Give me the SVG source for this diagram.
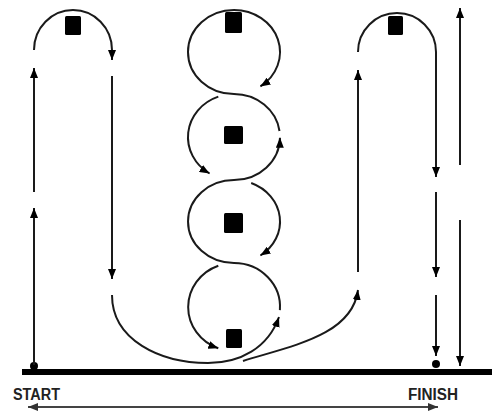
<svg xmlns="http://www.w3.org/2000/svg" width="492" height="413" viewBox="0 0 492 413">
  <style>
    .route { fill: none; stroke: #1a1a1a; stroke-width: 2; marker-end: url(#ah); }
    .plain { fill: none; stroke: #1a1a1a; stroke-width: 2; }
    .cone { fill: #000; }
    .label { font-family: "Liberation Sans", Arial, sans-serif; font-weight: bold; font-size: 16px; fill: #222; }
    .dim { fill: none; stroke: #1a1a1a; stroke-width: 2; }
  </style>
  <defs>
    <marker id="ah" viewBox="0 0 10 8" markerWidth="10" markerHeight="8" refX="10" refY="4" orient="auto" markerUnits="userSpaceOnUse">
      <path d="M0,0 L10,4 L0,8 z" fill="#000"/>
    </marker>
    <marker id="ah2" viewBox="0 0 10 8" markerWidth="10" markerHeight="8" refX="10" refY="4" orient="auto-start-reverse" markerUnits="userSpaceOnUse">
      <path d="M0,0 L10,4 L0,8 z" fill="#333"/>
    </marker>
  </defs>

  <!-- ground line -->
  <g id="ground">
    <line x1="22" y1="372" x2="492" y2="372" stroke="#000" stroke-width="6"/>
    <circle cx="34" cy="366" r="4" fill="#000"/>
    <circle cx="436" cy="364" r="4" fill="#000"/>
  </g>

  <!-- cones -->
  <g id="cone-left"><rect class="cone" x="65" y="16" width="16" height="19" rx="1.5"/></g>
  <g id="cone-right"><rect class="cone" x="388" y="16" width="15" height="19" rx="1.5"/></g>
  <g id="cone-1"><rect class="cone" x="225" y="12" width="17" height="21" rx="1.5"/></g>
  <g id="cone-2"><rect class="cone" x="224" y="126" width="19" height="18" rx="1.5"/></g>
  <g id="cone-3"><rect class="cone" x="224" y="213" width="19" height="20" rx="1.5"/></g>
  <g id="cone-4"><rect class="cone" x="226" y="329" width="16" height="19" rx="1.5"/></g>

  <!-- running route -->
  <g id="connectors">
    <!-- left loop -->
    <path class="route" d="M34,365 L34,208"/>
    <path class="route" d="M34,192 L34,68"/>
    <path class="route" d="M34,50 A39,40 0 0 1 112,50 L112,60"/>
    <path class="route" d="M112,76 L112,279"/>
    <path class="route" d="M112,295 C112,340 160,363 208,363 C240,363 268,348 279,317"/>

    <!-- figure-eight column -->
    <path class="route" d="M279.9,310.1 A46,44 0 0 0 234,263 A46,41.5 0 0 1 234,180 A46,43 0 0 0 280,137.7"/>
    <path class="route" d="M279.5,131 A46,43 0 0 0 234,94 A46,42 0 0 1 234,10 A46,42 0 0 1 260.4,86.4"/>
    <path class="route" d="M218.3,96.6 A46,43 0 0 0 209.6,173.5"/>
    <path class="route" d="M251.2,183 A46,41.5 0 0 1 260.4,255.5"/>
    <path class="route" d="M218.3,265.7 A46,44 0 0 0 218.3,348.3"/>

    <!-- right loop -->
    <path class="route" d="M243,361 C290,346 352,336 358,290"/>
    <path class="route" d="M358,272 L358,70"/>
    <path class="route" d="M358,52 A39,39 0 0 1 436,52 L436,177"/>
    <path class="route" d="M436,192 L436,277"/>
    <path class="route" d="M436,295 L436,356"/>

    <!-- height span -->
    <path class="route" d="M460,165 L460,8"/>
    <path class="route" d="M460,220 L460,366"/>

    <!-- course length -->
    <path d="M28,407 L438,407" fill="none" stroke="#444" stroke-width="2" marker-start="url(#ah2)" marker-end="url(#ah2)"/>
  </g>

  <g id="label-start"><text class="label" x="13" y="400" textLength="47" lengthAdjust="spacingAndGlyphs">START</text></g>
  <g id="label-finish"><text class="label" x="408" y="400" textLength="50" lengthAdjust="spacingAndGlyphs">FINISH</text></g>
</svg>
